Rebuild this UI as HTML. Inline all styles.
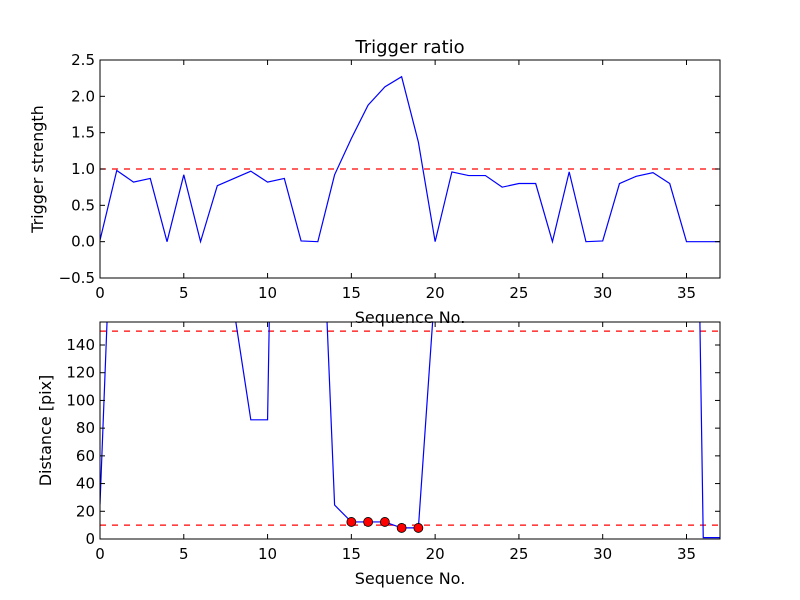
<!DOCTYPE html>
<html><head><meta charset="utf-8"><style>
body{margin:0;background:#fff;}
svg{display:block;font-family:"DejaVu Sans","Liberation Sans",sans-serif;}
</style></head><body>
<svg id="c" width="800" height="600" xmlns="http://www.w3.org/2000/svg"></svg>
<script>
const seq = [];
for (let i = 0; i <= 37; i++) seq.push(i);
const strength = [0.02,0.98,0.82,0.87,0.0,0.92,0.0,0.77,0.87,0.97,0.82,0.87,0.01,0.0,0.92,1.42,1.88,2.13,2.27,1.37,0.0,0.96,0.91,0.91,0.75,0.80,0.80,0.0,0.96,0.0,0.01,0.80,0.90,0.95,0.80,0.0,0.0,0.0];
const distance = [25,339,500,500,500,500,500,500,165,86,86,787,500,318,24.5,12.3,12.3,12.3,8,8,183,400,400,400,400,400,400,400,400,400,400,400,400,400,400,781,1,1];
const markedIdx = [15,16,17,18,19];
const topYTicks = [-0.5,0.0,0.5,1.0,1.5,2.0,2.5];
const topYLabels = ["\u22120.5","0.0","0.5","1.0","1.5","2.0","2.5"];
const botYTicks = [0,20,40,60,80,100,120,140];
const xTicks = [0,5,10,15,20,25,30,35];
const topThreshold = [1.0];
const botThresholds = [10,150];

const NS = "http://www.w3.org/2000/svg";
const svgEl = document.getElementById('c');
function mk(tag, attrs, parent) {
  const e = document.createElementNS(NS, tag);
  for (const k in attrs) e.setAttribute(k, attrs[k]);
  (parent || svgEl).appendChild(e);
  return e;
}
const L = 100, R = 720;
const xs = v => L + (v - 0) / 37 * (R - L);

function panel(name, T, B, ymin, ymax, yt, ylabels, yTitle, yTitleX, series, thresholds) {
  const ys = v => B - (v - ymin) / (ymax - ymin) * (B - T);
  const g = mk('g', {});
  
  
  const clipId = name + '-clip';
  const cp = mk('clipPath', {id: clipId}, g);
  mk('rect', {x: L, y: T, width: R - L, height: B - T}, cp);
  thresholds.forEach(t => {
    const ln = mk('line', {x1: L, x2: R, y1: ys(t), y2: ys(t), stroke: '#ff0000', 'stroke-width': 1.2, 'stroke-dasharray': '6,6', 'clip-path': 'url(#' + clipId + ')'}, g);
    
    
  });
  const pts = seq.map((s, i) => xs(s).toFixed(2) + ',' + ys(series[i]).toFixed(2)).join(' ');
  const pl = mk('polyline', {points: pts, fill: 'none', stroke: '#0000ff', 'stroke-width': 1.2, 'clip-path': 'url(#' + clipId + ')'}, g);
  
  
  const fr = mk('rect', {x: L, y: T, width: R - L, height: B - T, fill: 'none', stroke: '#000', 'stroke-width': 1}, g);
  
  
  xTicks.forEach(v => {
    const x = xs(v);
    mk('line', {x1: x, x2: x, y1: B, y2: B - 5, stroke: '#000'}, g);
    mk('line', {x1: x, x2: x, y1: T, y2: T + 5, stroke: '#000'}, g);
    const t = mk('text', {x: x, y: B + 20, 'text-anchor': 'middle', 'font-size': 15}, g);
    t.textContent = String(v);
    
    
  });
  yt.forEach((v, i) => {
    const y = ys(v);
    mk('line', {x1: L, x2: L + 5, y1: y, y2: y, stroke: '#000'}, g);
    mk('line', {x1: R, x2: R - 5, y1: y, y2: y, stroke: '#000'}, g);
    const t = mk('text', {x: L - 5, y: y + 5, 'text-anchor': 'end', 'font-size': 15}, g);
    t.textContent = ylabels[i];
    
    
  });
  const xl = mk('text', {x: (L + R) / 2, y: B + 45, 'text-anchor': 'middle', 'font-size': 16}, g);
  xl.textContent = 'Sequence No.';
  
  
  const cy = (T + B) / 2;
  const yl = mk('text', {x: yTitleX, y: cy, 'text-anchor': 'middle', 'font-size': 16, transform: 'rotate(-90 ' + yTitleX + ' ' + cy + ')'}, g);
  yl.textContent = yTitle;
  
  
  return {g, ys, clipId};
}

const topPanel = panel('top-panel', 60, 278, -0.5, 2.5, topYTicks, topYLabels, 'Trigger strength', 43, strength, topThreshold);
const title = mk('text', {x: 410, y: 53, 'text-anchor': 'middle', 'font-size': 18});
title.textContent = 'Trigger ratio';



const botPanel = panel('bottom-panel', 322, 539, 0, 156.6, botYTicks, botYTicks.map(String), 'Distance [pix]', 51, distance, botThresholds);
markedIdx.forEach(i => {
  const c = mk('circle', {cx: xs(seq[i]), cy: botPanel.ys(distance[i]), r: 4.5, fill: '#ff0000', stroke: '#000', 'stroke-width': 0.8}, botPanel.g);
  
  
});
</script>
</body></html>
